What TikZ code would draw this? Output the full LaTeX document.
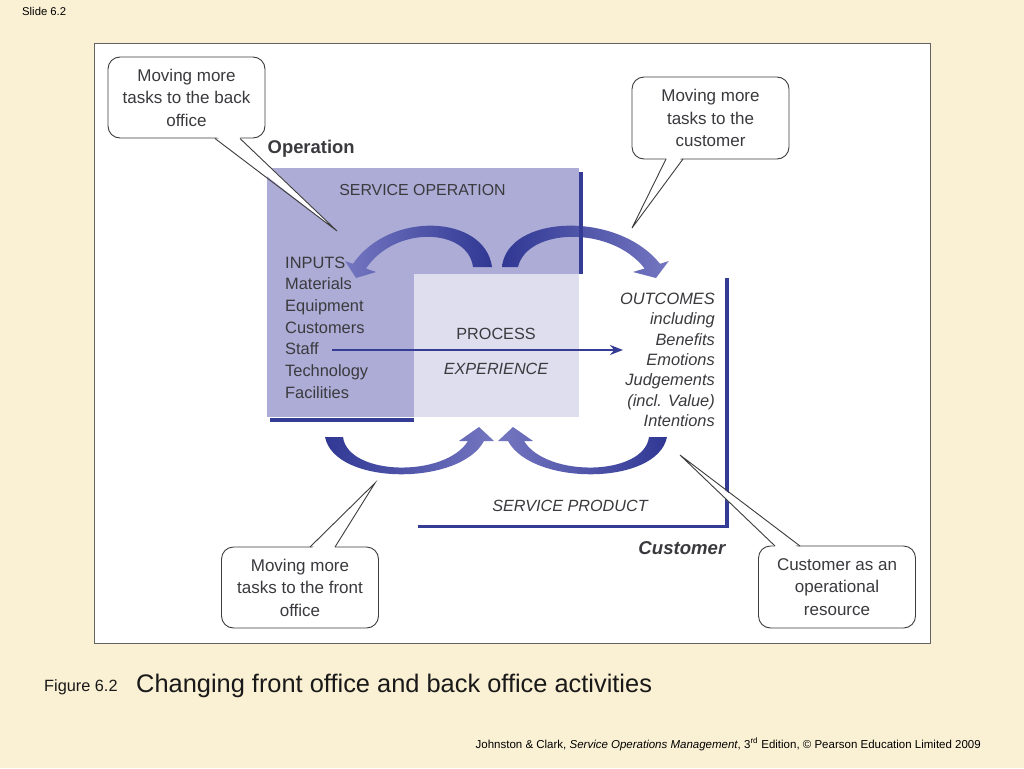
\documentclass[tikz,border=0pt]{standalone}
\usepackage{fontspec}
\setmainfont{Liberation Sans}
\usetikzlibrary{arrows.meta,calc}
\definecolor{slidebg}{RGB}{250,240,212}
\definecolor{opfill}{RGB}{172,172,214}
\definecolor{procfill}{RGB}{222,222,238}
\definecolor{navy}{RGB}{52,60,150}
\definecolor{arrdark}{RGB}{48,56,148}
\definecolor{arrlight}{RGB}{116,118,192}
\definecolor{txt}{RGB}{58,58,62}
\definecolor{framegray}{RGB}{100,100,100}
\definecolor{calloutline}{RGB}{60,60,60}
\tikzset{
  callout/.style={draw=calloutline, fill=white, rounded corners=12, line width=0.9,
    minimum width=157, minimum height=81, align=center, inner sep=0,
    font=\fontsize{17}{22.5}\selectfont, text=txt},
  tailline/.style={draw=calloutline, line width=0.9},
  dtext/.style={inner sep=0, text=txt, font=\fontsize{16.4}{20}\selectfont},
  navyline/.style={navy, line width=3.3},
}
\begin{document}
\begin{tikzpicture}[x=1pt,y=-1pt]
% background and frame
\fill[slidebg] (0,0) rectangle (1024,768);
\useasboundingbox (0,0) rectangle (1024,768);
\draw[framegray, fill=white, line width=0.9] (94,43) rectangle (930.5,643);
\node[anchor=base west, inner sep=0, font=\fontsize{11.3}{13}\selectfont] (slide) at (22,16) {Slide 6.2};

% operation boxes
\fill[opfill] (267,168) rectangle (579,417);
\fill[procfill] (414,274) rectangle (579,417);
\draw[navyline] (270,420) -- (414,420);

% curved arrows
\shade[left color=arrlight, right color=arrdark] (473,267) -- (492,267) .. controls (485,215) and (390,210) .. (353,263.8) -- (345,261) -- (356,278) -- (376,272) -- (366,268.5) .. controls (395,225) and (468,228) .. (473,267) -- cycle;
\shade[left color=arrdark, right color=arrlight] (502,267) .. controls (507,215) and (617,210) .. (660,263.8) -- (668.8,261) -- (656,278) -- (633,272) -- (644.6,268.5) .. controls (611,225) and (527,228) .. (518,267) -- cycle;
\shade[left color=arrdark, right color=arrlight] (325,437) -- (343,437) .. controls (348,476) and (445,478) .. (468,441) -- (459,441) -- (479,427) -- (494,441) -- (484,441) .. controls (460,486) and (335,486) .. (325,437) -- cycle;
\shade[left color=arrlight, right color=arrdark] (667,437) -- (649,437) .. controls (644,476) and (547,478) .. (524,441) -- (533,441) -- (513,427) -- (498,441) -- (508,441) .. controls (532,486) and (657,486) .. (667,437) -- cycle;

\draw[navyline] (581,172) -- (581,274);
\draw[navyline] (727,278) -- (727,526.5) -- (418,526.5);

% texts of the diagram
\node[anchor=base west, inner sep=0, text=txt, font=\bfseries\fontsize{18.4}{22}\selectfont] (operation) at (267.5,153) {Operation};
\node[dtext, anchor=base, font=\fontsize{15.9}{20}\selectfont] (serviceop) at (422.5,195.5) {SERVICE OPERATION};
\foreach \t [count=\i] in {INPUTS, Materials, Equipment, Customers, Staff, Technology, Facilities}
  \node[dtext, anchor=base west] (in\i) at (285,{268+(\i-1)*21.67}) {\t};
\node[dtext, anchor=base, font=\fontsize{16.2}{20}\selectfont] (process) at (496,339) {PROCESS};
\node[dtext, anchor=base, font=\itshape\fontsize{16.2}{20}\selectfont] (experience) at (496,374.3) {EXPERIENCE};
\foreach \t [count=\i] in {OUTCOMES, including, Benefits, Emotions, Judgements, (incl. Value), Intentions}
  \node[dtext, anchor=base east, font=\itshape\fontsize{16.4}{20}\selectfont] (out\i) at (715,{304.3+(\i-1)*20.4}) {\t};
\node[dtext, anchor=base, font=\itshape\fontsize{16.2}{20}\selectfont] (sproduct) at (570,511) {SERVICE PRODUCT};
\node[dtext, anchor=base east, font=\bfseries\itshape\fontsize{18.6}{22}\selectfont] (customer) at (725.5,554) {Customer};

% staff arrow
\coordinate (staffA) at (332,350);
\coordinate (staffB) at (623,350);
\draw[navy, line width=1.8, -{Stealth[length=13, width=10]}] (staffA) -- (staffB);

% callouts
\node[callout] (c1) at (186.5,97.5) {Moving more\\tasks to the back\\office};
\node[callout, minimum height=82] (c2) at (710.5,118) {Moving more\\tasks to the\\customer};
\node[callout] (c3) at (300,587.5) {Moving more\\tasks to the front\\office};
\node[callout, minimum height=82] (c4) at (837,587) {Customer as an\\operational\\resource};

\coordinate (t1a) at (215,138.5); \coordinate (t1b) at (240,138.5); \coordinate (t1tip) at (337,231);
\coordinate (t2a) at (666,159);   \coordinate (t2b) at (683,159);   \coordinate (t2tip) at (632,228);
\coordinate (t3a) at (310,547);   \coordinate (t3b) at (335,547);   \coordinate (t3tip) at (375,483);
\coordinate (t4a) at (775,546);   \coordinate (t4b) at (800,546);   \coordinate (t4tip) at (680,455);

\fill[white] ($(t1a)+(1.2,-2)$) -- (t1tip) -- ($(t1b)+(-1.2,-2)$) -- cycle;
\draw[tailline] (t1a) -- (t1tip) -- (t1b);
\fill[white] ($(t2a)+(1.2,-2)$) -- (t2tip) -- ($(t2b)+(-1.2,-2)$) -- cycle;
\draw[tailline] (t2a) -- (t2tip) -- (t2b);
\fill[white] ($(t3a)+(1.2,2)$) -- (t3tip) -- ($(t3b)+(-1.2,2)$) -- cycle;
\draw[tailline] (t3a) -- (t3tip) -- (t3b);
\fill[white] ($(t4a)+(1.2,2)$) -- (t4tip) -- ($(t4b)+(-1.2,2)$) -- cycle;
\draw[tailline] (t4a) -- (t4tip) -- (t4b);

% caption and footer
\node[anchor=base west, inner sep=0, text=black!90, font=\fontsize{16.3}{18}\selectfont] (figno) at (44,691) {Figure 6.2};
\node[anchor=base west, inner sep=0, text=black!90, font=\fontsize{25.4}{30}\selectfont] (caption) at (136,692) {Changing front office and back office activities};
\node[anchor=base east, inner sep=0, text=black, font=\fontsize{11.5}{13}\selectfont] (footer) at (981,748) {Johnston \& Clark, \textit{Service Operations Management}, 3\textsuperscript{rd} Edition, © Pearson Education Limited 2009};
\end{tikzpicture}
\end{document}
